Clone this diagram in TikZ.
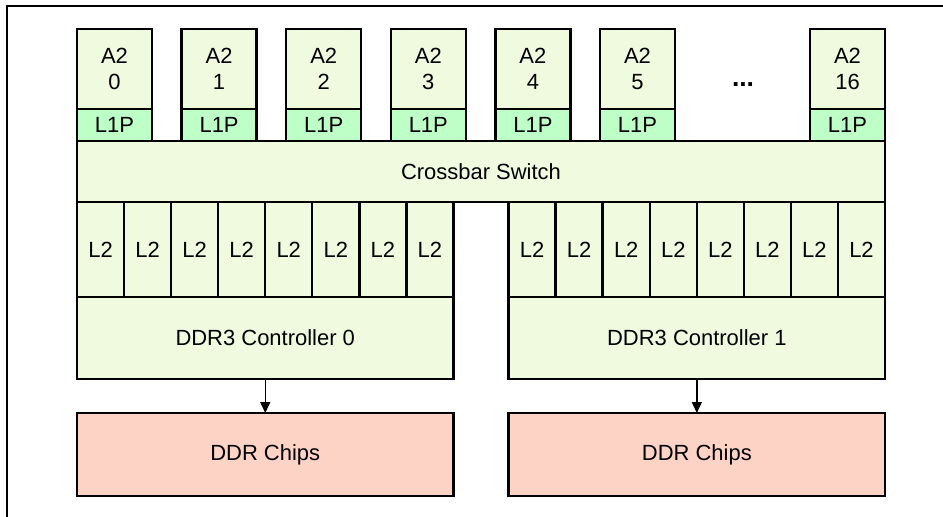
\documentclass[tikz,border=0pt]{standalone}
\usepackage{fontspec}
\setmainfont{Liberation Sans}
\usetikzlibrary{positioning,arrows.meta}
\definecolor{coregreen}{HTML}{F0FADF}
\definecolor{lonegreen}{HTML}{BEFFC8}
\definecolor{chipred}{HTML}{FDD3C6}
\tikzstyle{basebox}=[rectangle, draw=black, line width=1.4pt, inner sep=0pt,
                    outer sep=0pt, align=center, font=\fontsize{12.5}{14.7}\selectfont]
\tikzstyle{abox}=[basebox, fill=coregreen, minimum width=15mm, minimum height=16mm]
\tikzstyle{pbox}=[basebox, fill=lonegreen, minimum width=15mm, minimum height=6.4mm]
\tikzstyle{xbox}=[basebox, fill=coregreen, minimum width=161.6mm, minimum height=12.2mm]
\tikzstyle{lbox}=[basebox, fill=coregreen, minimum width=9.41mm, minimum height=19mm]
\tikzstyle{cbox}=[basebox, fill=coregreen, minimum width=75.3mm, minimum height=16.4mm]
\tikzstyle{dbox}=[basebox, fill=chipred, minimum width=75.3mm, minimum height=16.6mm]
\tikzstyle{parrow}=[-{Triangle[length=2.2mm,width=2mm]}, line width=0.8pt]

\begin{document}
\begin{tikzpicture}
\useasboundingbox (0,0) rectangle (18.86,-10.34);
\draw[line width=0.8pt] (0.14,-10.34) -- (0.14,-0.12) -- (18.86,-0.12);

% cores with their L1P
\foreach \i/\x in {0/2.29,1/4.382,2/6.474,3/8.566,4/10.658,5/12.75,16/16.95} {
  \node (A\i) [abox] at (\x,-1.38) {A2\\\i};
  \node (P\i) [pbox, below=0pt of A\i] {L1P};
}
\node (DOTS) [anchor=base, font=\fontsize{15}{17}\selectfont\bfseries]
  at (14.86,-1.74) {...};

\node (XB) [xbox, anchor=north west] at (P0.south west) {Crossbar Switch};

% L2 slices
\node (La1) [lbox, anchor=north west] at (XB.south west) {L2};
\foreach \i [count=\j from 1] in {2,...,8}
  \node (La\i) [lbox, right=0pt of La\j] {L2};
\node (Lb8) [lbox, anchor=north east] at (XB.south east) {L2};
\foreach \i [evaluate=\i as \j using int(\i+1)] in {7,6,...,1}
  \node (Lb\i) [lbox, left=0pt of Lb\j] {L2};

\node (CTL0) [cbox, anchor=north west] at (La1.south west) {DDR3 Controller 0};
\node (CTL1) [cbox, anchor=north west] at (Lb1.south west) {DDR3 Controller 1};
\node (DDR0) [dbox, below=6.8mm of CTL0] {DDR Chips};
\node (DDR1) [dbox, below=6.8mm of CTL1] {DDR Chips};
 \draw[parrow] (CTL0) -- (DDR0);
 \draw[parrow] (CTL1) -- (DDR1);

\end{tikzpicture}
\end{document}
